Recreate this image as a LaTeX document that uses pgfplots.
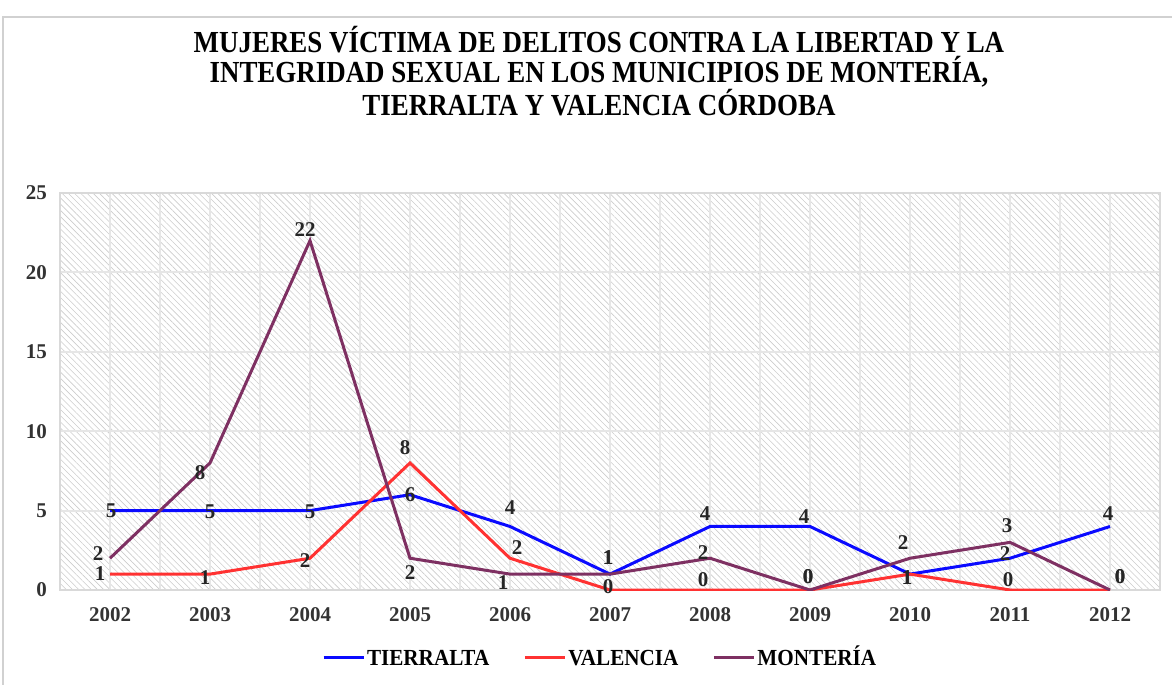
\documentclass[border=0pt]{standalone}
\usepackage{fontspec}
\setmainfont{Liberation Serif}
\newfontfamily\condfont[FakeStretch=0.88]{Liberation Serif}
\newfontfamily\legfont[FakeStretch=0.92]{Liberation Serif}
\usepackage{pgfplots}
\usepackage{pgfplotstable}
\pgfplotsset{compat=1.18}
\usetikzlibrary{patterns.meta}
\definecolor{tblue}{RGB}{10,10,255}
\definecolor{vred}{RGB}{255,50,50}
\definecolor{mpurp}{RGB}{126,48,98}
\definecolor{gridc}{RGB}{230,230,230}

\pgfplotstableread{
x y dx dy
0 5 1 0
1 5 0 -1
2 5 0 -1
3 6 0 0
4 4 0 19
5 1 -2 17
6 4 -5 13
7 4 -6 10
8 1 -3 -3
9 2 -5 5
10 4 -2 13
}\tierralta
\pgfplotstableread{
x y dx dy
0 1 -10 1
1 1 -5 -3
2 2 -5 -2
3 8 -5 15
4 2 7 11
5 0 -2 3
6 0 -7 10
7 0 -2 13
8 1 -3 -3
9 0 -2 10
10 0 10 13
}\valencia
\pgfplotstableread{
x y dx dy
0 2 -12 5
1 8 -10 -10
2 22 -5 11
3 2 0 -14
4 1 -7 -8
5 1 -2 17
6 2 -7 6
7 0 -2 13
8 2 -7 16
9 3 -3 17
10 0 10 13
}\monteria

\begin{document}
\begin{tikzpicture}
\useasboundingbox (0,0) rectangle (586pt,342.5pt);
\draw[black!18, line width=1pt] (1.5pt,0) -- (1.5pt,334pt) -- (586pt,334pt);
\node[align=center, font=\condfont\bfseries\fontsize{15.3}{15}\selectfont, anchor=north] at (299.5pt,333pt)
  {MUJERES VÍCTIMA DE DELITOS CONTRA LA LIBERTAD Y LA\\INTEGRIDAD SEXUAL EN LOS MUNICIPIOS DE MONTERÍA,\\TIERRALTA Y VALENCIA CÓRDOBA};
\begin{axis}[
  at={(30pt,47.5pt)}, anchor=south west,
  scale only axis, width=550pt, height=198.5pt,
  xmin=-0.5, xmax=10.5, ymin=0, ymax=25,
  xtick={0,...,10},
  xticklabels={2002,2003,2004,2005,2006,2007,2008,2009,2010,2011,2012},
  minor xtick={-0.5,0.5,...,10.5},
  ytick={0,5,...,25},
  major tick length=0pt, minor tick length=0pt,
  xmajorgrids, xminorgrids, ymajorgrids,
  major grid style={draw=gridc, line width=1pt},
  minor grid style={draw=gridc, line width=1pt},
  axis line style={draw=black!15, line width=1pt},
  axis background/.style={pattern={Lines[angle=-45,distance=2.2pt,line width=0.3pt]}, pattern color=black!20},
  /pgf/number format/assume math mode=true,
  tick label style={font=\bfseries\fontsize{10.5}{12}\selectfont, text=black!80},
  yticklabel style={xshift=-3pt},
  xticklabel style={yshift=-5pt},
  legend style={at={(0.491,-0.171)}, anchor=center, draw=none, fill=none,
    legend columns=3, font=\legfont\bfseries\fontsize{11.5}{13}\selectfont,
    /tikz/every even column/.append style={column sep=16pt},
    nodes={inner sep=1pt, text height=8pt, text depth=0pt}},
  legend image code/.code={\draw[#1, line width=1.5pt] (0pt,0pt) -- (20pt,0pt);},
  visualization depends on={\thisrow{dx} \as \dx},
  visualization depends on={\thisrow{dy} \as \dy},
  nodes near coords,
  every node near coord/.append style={anchor=center, xshift={\dx*0.5pt}, yshift={\dy*0.5pt},
    font=\bfseries\fontsize{10.5}{12}\selectfont, text=black!85, inner sep=0pt},
]
\addplot[tblue, line width=1.5pt, mark=none] table[x=x,y=y] {\tierralta};
\addlegendentry{TIERRALTA}
\addplot[vred, line width=1.5pt, mark=none] table[x=x,y=y] {\valencia};
\addlegendentry{VALENCIA}
\addplot[mpurp, line width=1.5pt, mark=none] table[x=x,y=y] {\monteria};
\addlegendentry{MONTERÍA}
\end{axis}
\end{tikzpicture}
\end{document}
